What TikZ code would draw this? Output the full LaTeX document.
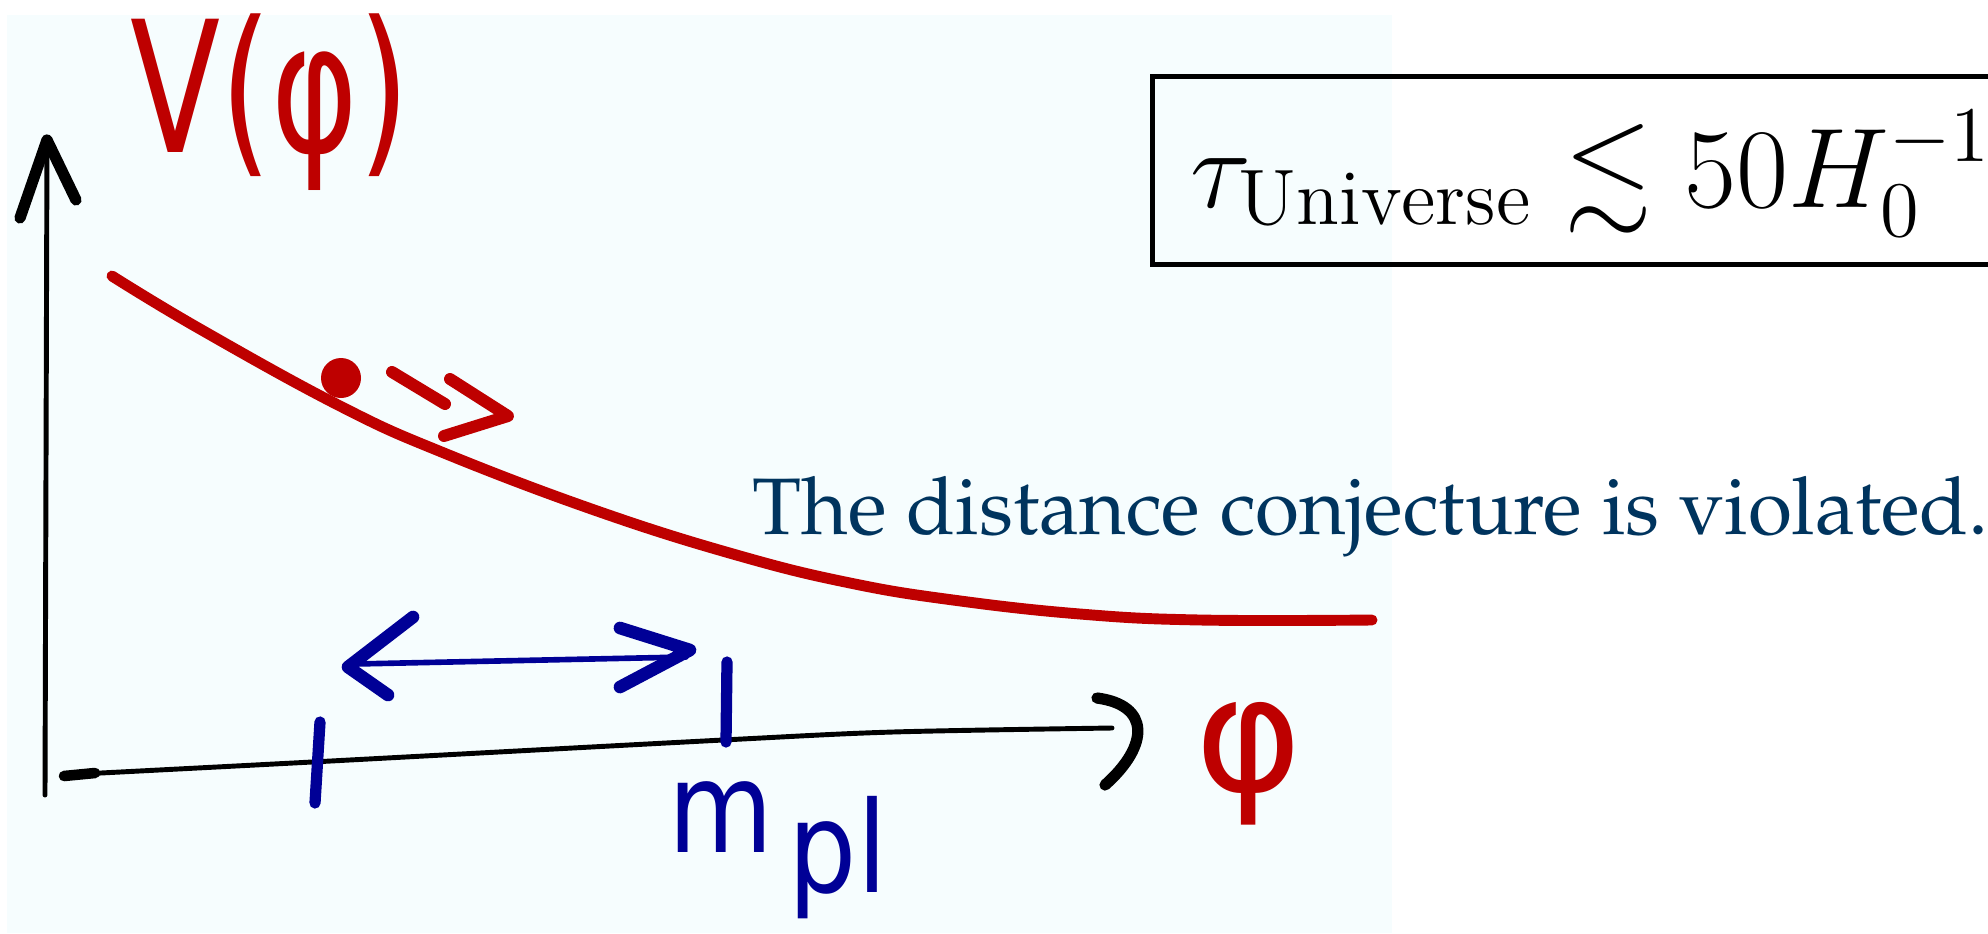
\documentclass[tikz,border=0pt]{standalone}
\usepackage{fontspec}
\usepackage{amssymb}
\usepackage{graphicx}
\newfontfamily\handfont{DejaVu Sans}
\definecolor{bgcyan}{RGB}{246,253,254}
\definecolor{inkred}{RGB}{190,0,0}
\definecolor{inkblue}{RGB}{0,0,150}
\definecolor{txtblue}{RGB}{0,52,94}
\tikzset{
  axisline/.style={draw=black, line width=1.4pt, line cap=round, line join=round},
  axishead/.style={draw=black, line width=3.2pt, line cap=round, line join=round},
  redcurve/.style={draw=inkred, line width=3.1pt, line cap=round, line join=round},
  redink/.style={draw=inkred, line width=3.4pt, line cap=round, line join=round},
  blueshaft/.style={draw=inkblue, line width=1.6pt, line cap=round},
  bluehead/.style={draw=inkblue, line width=3.6pt, line cap=round, line join=round},
  bluetick/.style={draw=inkblue, line width=3.2pt, line cap=round},
  handred/.style={text=inkred, inner sep=0pt, font=\handfont},
  handblue/.style={text=inkblue, inner sep=0pt, font=\handfont},
}
\begin{document}
\begin{tikzpicture}[x=0.01cm, y=-0.01cm]
\useasboundingbox (0,0) rectangle (1988,933);
\clip (0,0) rectangle (1988,933);
\fill[white] (0,0) rectangle (1988,933);
\fill[bgcyan] (7,15) rectangle (1392,933);

% vertical axis
\coordinate (yb) at (45,795);
\coordinate (yt) at (47,140);
\draw[axisline] (yb) -- (yt);
\draw[axishead] (20,218) -- (yt) -- (76,200);

% horizontal axis
\coordinate (xl) at (62,775);
\coordinate (xr) at (1112,728);
\draw[axisline] plot[smooth] coordinates {(62,775) (312,762) (723,740) (893,732) (1112,728)};
\draw[black, line width=3pt, line cap=round] (64,776) -- (95,773);
\draw[axishead] (1097,698) .. controls (1150,705) and (1150,745) .. (1105,785);

% red potential curve
\draw[redcurve] plot[smooth, tension=0.7] coordinates {(112,276) (200,329) (340,406) (444,453) (600,512) (740,556) (850,583) (953,600) (1080,614) (1200,620) (1372,620)};

% rolling ball and motion arrow
\fill[inkred] (341,378) circle (20);
\draw[redink] (392,372) -- (445,404);
\draw[redink] (450,379) -- (508,416) -- (444,436);

% blue distance arrow and ticks
\draw[blueshaft] (355,664) -- (686,657);
\draw[bluehead] (413,617) -- (348,667) -- (388,695);
\draw[bluehead] (620,628) -- (690,650) -- (620,687);
\draw[bluetick] (320,722) -- (315,803);
\draw[bluetick] (727,662) -- (726,742);

% labels
\node[handred] (Vlab) at (270,102) {\fontsize{52}{56}\selectfont\scalebox{0.72}[1]{V(φ)}};
\node[handred] (philab) at (1249,764) {\fontsize{46}{50}\selectfont φ};
\node[handblue, anchor=base west] (mpl) at (668,852) {\fontsize{36}{40}\selectfont\scalebox{0.85}[1]{m}\kern0.12em\raisebox{-0.4cm}{\scalebox{0.85}[1]{pl}}};

% box with the bound
\node[anchor=base west, inner sep=0pt] (tau) at (1190,207) {\scalebox{1.555}{\huge$\tau_{\mathrm{Universe}}\lesssim 50H_0^{-1}$}};
\draw[black, line width=1.45pt] (2100,76.5) -- (1152.5,76.5) -- (1152.5,264.5) -- (2100,264.5);

% statement
\node[anchor=base west, inner sep=0pt, text=txtblue] (stmt) at (752,534) {\fontencoding{T1}\fontfamily{ppl}\fontsize{22.8}{27}\selectfont The distance conjecture is violated.};
\end{tikzpicture}
\end{document}
